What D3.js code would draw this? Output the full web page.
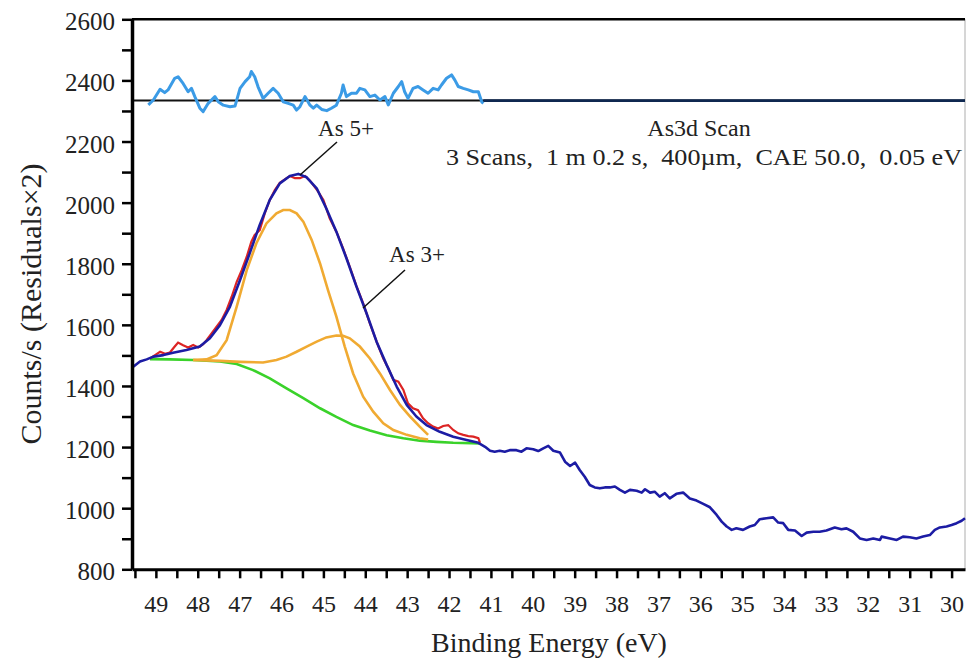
<!DOCTYPE html>
<html>
<head>
<meta charset="utf-8">
<script src="https://cdn.jsdelivr.net/npm/d3@7/dist/d3.min.js"></script>
<style>
  html, body { margin: 0; padding: 0; background: #fff; }
  svg text { font-family: "Liberation Serif", "Times New Roman", serif; fill: #222; }
</style>
</head>
<body>
<div id="chart"></div>
<script>
// As3d XPS 拟合图 —— 数据从图上读取 [结合能 eV, counts/s]

// 包络线（拟合）+ 拟合区以外的原始数据
const fitEnvelope = [
  [49.54, 1463], [49.38, 1480], [49.22, 1487], [49.06, 1496], [48.82, 1501], [48.59, 1509],
  [48.27, 1518], [47.95, 1529], [47.71, 1556], [47.47, 1599], [47.23, 1660], [46.99, 1747],
  [46.76, 1834], [46.52, 1927], [46.28, 2009], [46.04, 2063], [45.80, 2087], [45.60, 2094],
  [45.40, 2083], [45.16, 2047], [44.93, 1981], [44.69, 1905], [44.45, 1818], [44.21, 1725],
  [43.97, 1638], [43.73, 1545], [43.49, 1469], [43.25, 1398], [43.01, 1338], [42.78, 1300],
  [42.54, 1272], [42.22, 1250], [41.90, 1234], [41.58, 1223], [41.30, 1214]
];
const tailData = [
  [41.14, 1201], [41.02, 1188], [40.91, 1185], [40.79, 1188], [40.67, 1185], [40.55, 1190],
  [40.39, 1190], [40.27, 1185], [40.15, 1196], [39.99, 1193], [39.87, 1187], [39.75, 1196],
  [39.63, 1204], [39.51, 1188], [39.35, 1182], [39.23, 1152], [39.11, 1138], [38.99, 1149],
  [38.88, 1125], [38.76, 1103], [38.64, 1076], [38.52, 1068], [38.40, 1065], [38.28, 1068],
  [38.16, 1068], [38.04, 1071], [37.92, 1060], [37.80, 1051], [37.68, 1060], [37.52, 1057],
  [37.40, 1051], [37.32, 1062], [37.20, 1051], [37.09, 1054], [36.97, 1038], [36.85, 1049],
  [36.73, 1032], [36.57, 1047], [36.41, 1051], [36.25, 1032], [36.09, 1025], [35.93, 1014],
  [35.77, 1003], [35.61, 978], [35.49, 956], [35.37, 940], [35.25, 929], [35.14, 934],
  [34.98, 929], [34.82, 940], [34.70, 945], [34.58, 964], [34.42, 967], [34.26, 970],
  [34.14, 953], [34.02, 951], [33.90, 929], [33.74, 927], [33.58, 909], [33.46, 920],
  [33.30, 923], [33.15, 923], [32.99, 927], [32.79, 937], [32.63, 931], [32.51, 934],
  [32.35, 923], [32.19, 901], [32.03, 896], [31.87, 901], [31.71, 896], [31.67, 907],
  [31.47, 901], [31.31, 896], [31.16, 907], [31.00, 905], [30.84, 901], [30.68, 907],
  [30.52, 912], [30.40, 929], [30.28, 937], [30.12, 940], [30.00, 945], [29.88, 951],
  [29.76, 959], [29.68, 967]
];

// 原始数据（红线）
const rawData = [
  [49.14, 1490], [49.02, 1501], [48.90, 1512], [48.78, 1505], [48.67, 1509], [48.55, 1529],
  [48.47, 1542], [48.35, 1533], [48.23, 1526], [48.11, 1534], [47.99, 1526], [47.87, 1537],
  [47.79, 1550], [47.67, 1572], [47.55, 1594], [47.43, 1616], [47.31, 1649], [47.19, 1692],
  [47.07, 1741], [46.95, 1779], [46.83, 1823], [46.72, 1872], [46.64, 1894], [46.52, 1910],
  [46.40, 1965], [46.28, 2009], [46.16, 2041], [46.04, 2065], [45.92, 2076], [45.80, 2087],
  [45.68, 2080], [45.56, 2080], [45.44, 2087], [45.32, 2072], [45.16, 2043], [45.00, 2009],
  [44.85, 1949], [44.69, 1905], [44.53, 1850], [44.37, 1790], [44.21, 1727], [44.05, 1670],
  [43.89, 1605], [43.73, 1545], [43.57, 1490], [43.45, 1458], [43.33, 1420], [43.21, 1414],
  [43.09, 1387], [42.98, 1343], [42.86, 1327], [42.74, 1321], [42.62, 1294], [42.50, 1278],
  [42.38, 1267], [42.26, 1261], [42.14, 1269], [42.02, 1272], [41.90, 1256], [41.78, 1245],
  [41.66, 1240], [41.54, 1236], [41.42, 1234], [41.30, 1229], [41.26, 1214]
];

// Shirley 背景（绿线）
const background = [
  [49.14, 1488], [48.67, 1487], [48.11, 1485], [47.47, 1480], [47.07, 1472], [46.68, 1452],
  [46.28, 1425], [45.88, 1392], [45.48, 1360], [45.08, 1327], [44.69, 1299], [44.29, 1272],
  [43.89, 1254], [43.49, 1239], [43.09, 1229], [42.70, 1221], [42.30, 1217], [41.90, 1214],
  [41.26, 1212]
];

// 分峰（橙线）
const peakAs5 = [
  [48.11, 1485], [47.79, 1487], [47.55, 1501], [47.31, 1550], [47.07, 1660], [46.83, 1779],
  [46.60, 1867], [46.36, 1932], [46.12, 1965], [45.96, 1976], [45.80, 1976], [45.64, 1965],
  [45.48, 1938], [45.28, 1878], [45.08, 1801], [44.89, 1714], [44.69, 1627], [44.49, 1529],
  [44.29, 1441], [44.05, 1365], [43.81, 1316], [43.57, 1278], [43.33, 1256], [43.01, 1240],
  [42.70, 1229], [42.50, 1225]
];
const peakAs3 = [
  [48.11, 1485], [47.47, 1482], [46.99, 1479], [46.44, 1477], [46.12, 1485], [45.88, 1496],
  [45.64, 1512], [45.40, 1529], [45.16, 1545], [44.93, 1559], [44.69, 1565], [44.53, 1564],
  [44.37, 1556], [44.13, 1529], [43.89, 1490], [43.65, 1441], [43.41, 1387], [43.17, 1338],
  [42.93, 1300], [42.70, 1267], [42.50, 1240]
];

// 残差 ×2（浅蓝线），基线在 2334
const residualBase = 2334;
const residual = [
  [49.18, 2320], [49.06, 2336], [48.90, 2371], [48.79, 2360], [48.71, 2369], [48.55, 2407],
  [48.47, 2412], [48.35, 2390], [48.23, 2363], [48.15, 2374], [48.07, 2347], [47.95, 2309],
  [47.87, 2298], [47.75, 2325], [47.59, 2347], [47.51, 2330], [47.39, 2319], [47.23, 2314],
  [47.11, 2316], [46.99, 2374], [46.87, 2396], [46.76, 2412], [46.72, 2429], [46.64, 2412],
  [46.56, 2379], [46.44, 2341], [46.32, 2358], [46.20, 2374], [46.08, 2358], [45.96, 2330],
  [45.84, 2325], [45.72, 2319], [45.64, 2303], [45.56, 2314], [45.44, 2347], [45.32, 2319],
  [45.24, 2309], [45.16, 2319], [45.04, 2305], [44.92, 2301], [44.81, 2309], [44.69, 2319],
  [44.57, 2358], [44.53, 2385], [44.45, 2347], [44.33, 2358], [44.21, 2358], [44.13, 2374],
  [44.01, 2369], [43.89, 2347], [43.77, 2352], [43.65, 2336], [43.53, 2347], [43.45, 2320],
  [43.33, 2358], [43.21, 2380], [43.13, 2396], [43.06, 2363], [42.98, 2341], [42.86, 2374],
  [42.74, 2380], [42.62, 2369], [42.50, 2358], [42.38, 2374], [42.26, 2369], [42.18, 2385],
  [42.06, 2407], [41.94, 2418], [41.86, 2401], [41.78, 2380], [41.66, 2374], [41.54, 2369],
  [41.42, 2363], [41.30, 2363], [41.22, 2330], [41.18, 2325]
];

// 刻度标签
const xTickLabels = [49, 48, 47, 46, 45, 44, 43, 42, 41, 40, 39, 38, 37, 36, 35, 34, 33, 32, 31, 30];
const yTickLabels = [800, 1000, 1200, 1400, 1600, 1800, 2000, 2200, 2400, 2600];

const W = 966, H = 658;
const plotL = 132, plotR = 965, plotT = 19.3, plotB = 569.3;

const svg = d3.select('#chart').append('svg')
  .attr('width', W)
  .attr('height', H);

const x = d3.scaleLinear().domain([49.57, 29.68]).range([plotL, plotR]);
const y = d3.scaleLinear().domain([800, 2600]).range([plotB, plotT]);

// 右边框和上边框
svg.append('line')
  .attr('x1', plotR).attr('x2', plotR).attr('y1', plotT).attr('y2', plotB)
  .style('stroke', '#bbb').style('stroke-width', 1.2);
svg.append('line')
  .attr('x1', plotL).attr('x2', plotR).attr('y1', plotT).attr('y2', plotT)
  .style('stroke', '#000').style('stroke-width', 2.5);

const line = d3.line().x(d => x(d[0])).y(d => y(d[1]));

// 残差基线
svg.append('line')
  .attr('x1', plotL).attr('x2', plotR)
  .attr('y1', y(residualBase)).attr('y2', y(residualBase))
  .style('stroke', '#111').style('stroke-width', 2);

svg.append('path').datum(residual)
  .attr('d', line)
  .style('fill', 'none').style('stroke', '#3b9be6').style('stroke-width', 3)
  .style('stroke-linejoin', 'round');

// 拟合区右侧残差为零，与基线重合
svg.append('line')
  .attr('x1', x(residual[residual.length - 1][0])).attr('x2', plotR)
  .attr('y1', y(residualBase)).attr('y2', y(residualBase))
  .style('stroke', '#0f2850').style('stroke-width', 2.6);

// 背景、分峰、原始数据、包络
svg.append('path').datum(background)
  .attr('d', line)
  .style('fill', 'none').style('stroke', '#3ad22a').style('stroke-width', 2.6);

[peakAs5, peakAs3].forEach(p => {
  svg.append('path').datum(p)
    .attr('d', line)
    .style('fill', 'none').style('stroke', '#f0aa32').style('stroke-width', 2.6);
});

svg.append('path').datum(rawData)
  .attr('d', line)
  .style('fill', 'none').style('stroke', '#dc2424').style('stroke-width', 2.2);

svg.append('path').datum(fitEnvelope.concat(tailData))
  .attr('d', line)
  .style('fill', 'none').style('stroke', '#1c1ca4').style('stroke-width', 2.6)
  .style('stroke-linejoin', 'round');

// Y 轴
const yAxis = d3.axisLeft(y)
  .tickValues(d3.range(800, 2601, 100))
  .tickSize(10)
  .tickSizeOuter(0)
  .tickPadding(7)
  .tickFormat(d => yTickLabels.includes(d) ? d : '');

const gy = svg.append('g')
  .attr('transform', `translate(${plotL},0)`)
  .call(yAxis);
gy.select('.domain').style('stroke', '#000').style('stroke-width', 3.5);
gy.selectAll('.tick line').style('stroke', '#000').style('stroke-width', 2.5);
gy.selectAll('.tick text')
  .attr('dy', '0.42em')
  .style('font-size', '25px')
  .style('font-family', '"Liberation Serif", "Times New Roman", serif')
  .style('fill', '#222');

// X 轴
const xAxis = d3.axisBottom(x)
  .tickValues(d3.range(99, 59, -1).map(k => k / 2))
  .tickSize(9)
  .tickSizeOuter(0)
  .tickFormat(d => xTickLabels.includes(d) ? d : '');

const gx = svg.append('g')
  .attr('transform', `translate(0,${plotB})`)
  .call(xAxis);
gx.select('.domain').style('stroke', '#000').style('stroke-width', 3);
gx.selectAll('.tick line').style('stroke', '#000').style('stroke-width', 2.5);
gx.selectAll('.tick text')
  .attr('y', 43)
  .attr('dy', 0)
  .style('font-size', '24px')
  .style('font-family', '"Liberation Serif", "Times New Roman", serif')
  .style('fill', '#222');

// 轴标题
svg.append('text')
  .attr('x', 549).attr('y', 652)
  .attr('text-anchor', 'middle')
  .style('font-size', '28px')
  .text('Binding Energy (eV)');

svg.append('text')
  .attr('transform', 'translate(41,304) rotate(-90)')
  .attr('text-anchor', 'middle')
  .style('font-size', '30px')
  .text('Counts/s (Residuals×2)');

// 扫描信息
svg.append('text')
  .attr('x', 699).attr('y', 136)
  .attr('text-anchor', 'middle')
  .style('font-size', '24px')
  .text('As3d Scan');

svg.append('text')
  .attr('x', 446).attr('y', 165)
  .attr('textLength', 516)
  .attr('lengthAdjust', 'spacingAndGlyphs')
  .style('font-size', '24px')
  .style('white-space', 'pre')
  .text('3 Scans,  1 m 0.2 s,  400µm,  CAE 50.0,  0.05 eV');

// 峰标注
const labels = [
  { text: 'As 5+', tx: 346, ty: 136, from: [337, 142], to: [300, 175] },
  { text: 'As 3+', tx: 417, ty: 262, from: [405, 270], to: [363, 308] }
];
labels.forEach(l => {
  svg.append('text')
    .attr('x', l.tx).attr('y', l.ty)
    .attr('text-anchor', 'middle')
    .style('font-size', '23px')
    .text(l.text);
  svg.append('line')
    .attr('x1', l.from[0]).attr('y1', l.from[1])
    .attr('x2', l.to[0]).attr('y2', l.to[1])
    .style('stroke', '#111').style('stroke-width', 1.5);
});
</script>
</body>
</html>
